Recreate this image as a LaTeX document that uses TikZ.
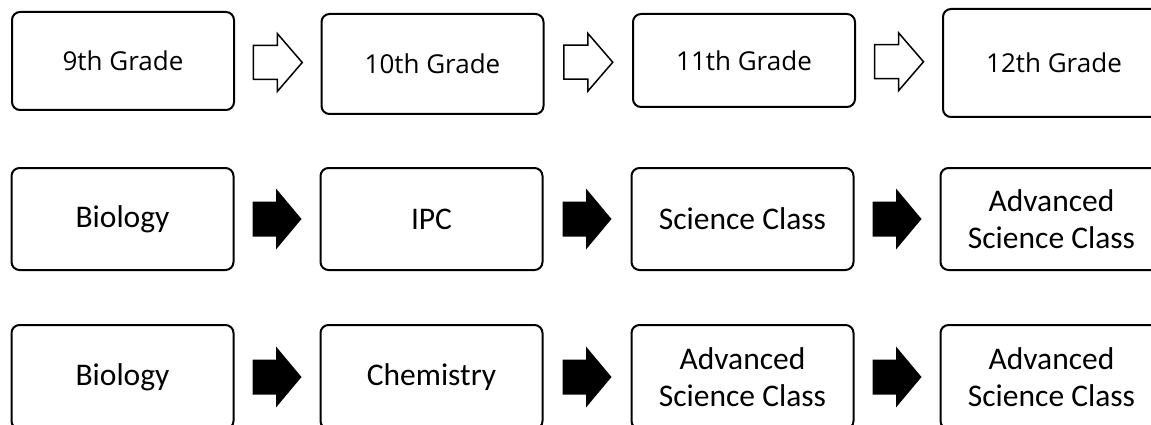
\documentclass[tikz,border=0pt]{standalone}
\usepackage{fontspec}
\setmainfont{Carlito}
\newfontfamily\gradefont{Open Sans}
\usetikzlibrary{calc}
\begin{document}
\begin{tikzpicture}[x=1pt,y=-1pt,
  box/.style={draw=black, line width=2pt, rounded corners=8pt, fill=white,
    minimum width=222pt, inner sep=0pt, align=center},
  grade/.style={font=\gradefont\fontsize{26}{31}\selectfont},
  course/.style={font=\fontsize{31.5}{37}\selectfont},
  outarrow/.pic={\draw[line width=1.5pt, line join=miter, fill=white]
    (-24.5,-17) -- (-0.5,-17) -- (-0.5,-29) -- (24.5,0) -- (-0.5,29) -- (-0.5,17) -- (-24.5,17) -- cycle;},
  fillarrow/.pic={\fill[black]
    (-24.5,-17.5) -- (-1,-17.5) -- (-1,-30.5) -- (24.5,0) -- (-1,30.5) -- (-1,17.5) -- (-24.5,17.5) -- cycle;}
]
\useasboundingbox[fill=white] (0,0) rectangle (1151,425);

% Row 1
\node[box,grade,minimum height=98pt]  (g9)  at (123,61)    {9th Grade};
\node[box,grade,minimum height=100pt] (g10) at (432.5,64)  {10th Grade};
\node[box,grade,minimum height=93pt]  (g11) at (744,60.5)  {11th Grade};
\node[box,grade,minimum height=108pt] (g12) at (1054,63)   {12th Grade};

% Row 2
\node[box,course,minimum height=102pt] (b1) at (122.5,219)  {Biology};
\node[box,course,minimum height=102pt] (b2) at (431.5,219)  {IPC};
\node[box,course,minimum height=102pt] (b3) at (742.5,219)  {Science Class};
\node[box,course,minimum height=102pt] (b4) at (1051.5,219) {Advanced\\Science Class};

% Row 3
\node[box,course,minimum height=104pt] (c1) at (122.5,377)  {Biology};
\node[box,course,minimum height=104pt] (c2) at (431.5,377)  {Chemistry};
\node[box,course,minimum height=104pt] (c3) at (742.5,377)  {Advanced\\Science Class};
\node[box,course,minimum height=104pt] (c4) at (1051.5,377) {Advanced\\Science Class};

% Arrows
\path ($(g9.east)!0.5!(g10.west)$)  pic {outarrow};
\path ($(g10.east)!0.5!(g11.west)$) pic {outarrow};
\path ($(g11.east)!0.5!(g12.west)$) pic {outarrow};

\path ($(b1.east)!0.5!(b2.west)$) pic {fillarrow};
\path ($(b2.east)!0.5!(b3.west)$) pic {fillarrow};
\path ($(b3.east)!0.5!(b4.west)$) pic {fillarrow};

\path ($(c1.east)!0.5!(c2.west)$) pic {fillarrow};
\path ($(c2.east)!0.5!(c3.west)$) pic {fillarrow};
\path ($(c3.east)!0.5!(c4.west)$) pic {fillarrow};
\end{tikzpicture}
\end{document}
